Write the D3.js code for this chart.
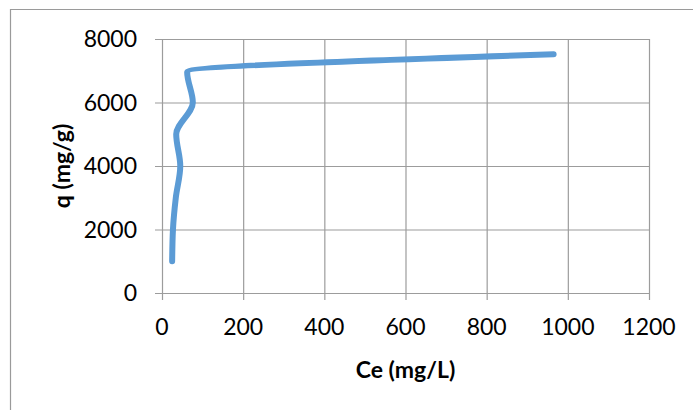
<!DOCTYPE html>
<html>
<head>
<meta charset="utf-8">
<script src="https://cdn.jsdelivr.net/npm/d3@7"></script>
<style>
  body { margin: 0; background: #fff; }
  text { font-family: Lato, "Open Sans", sans-serif; fill: #000; }
</style>
</head>
<body>
<svg id="chart" width="693" height="410"></svg>
<script>
// data
const ceValues = [25, 27, 34, 45, 35, 76, 62, 965];
const qValues = [1000, 2000, 3000, 4000, 5000, 6000, 6950, 7520];
const xTicks = [0, 200, 400, 600, 800, 1000, 1200];
const yTicks = [0, 2000, 4000, 6000, 8000];

const width = 693;
const height = 410;
const margin = { top: 39, left: 162, right: 44, bottom: 117 };

const points = ceValues.map((c, i) => ({ ce: c, q: qValues[i] }));

const svg = d3.select("#chart");

// chart area border (runs off the right and bottom edges)
svg.append("path")
  .attr("d", "M10.5," + height + "V9.5H" + width)
  .attr("fill", "none")
  .attr("stroke", "#9a9a9a")
  .attr("stroke-width", 1.2);

var xScale = d3.scaleLinear()
  .domain([0, 1200])
  .range([margin.left, width - margin.right]);

var yScale = d3.scaleLinear()
  .domain([0, 8000])
  .range([height - margin.bottom, margin.top]);

const plotH = height - margin.bottom - margin.top;
const plotW = width - margin.right - margin.left;

// vertical gridlines + bottom ticks
const xGrid = svg.append("g")
  .attr("transform", "translate(0," + (height - margin.bottom + 7) + ")")
  .call(d3.axisBottom(xScale).tickValues(xTicks).tickSize(-(plotH + 7)).tickFormat(""));

// horizontal gridlines + left ticks
const yGrid = svg.append("g")
  .attr("transform", "translate(" + (margin.left - 7) + ",0)")
  .call(d3.axisLeft(yScale).tickValues(yTicks).tickSize(-(plotW + 7)).tickFormat(""));

[xGrid, yGrid].forEach(g => {
  g.select(".domain").remove();
  g.selectAll(".tick line").attr("stroke", "#9c9c9c").attr("stroke-width", 1.2);
});

// tick labels
svg.append("g")
  .selectAll("text")
  .data(xTicks)
  .join("text")
    .attr("x", d => xScale(d))
    .attr("y", height - margin.bottom + 42)
    .attr("text-anchor", "middle")
    .attr("font-size", 23)
    .text(d => d);

svg.append("g")
  .selectAll("text")
  .data(yTicks)
  .join("text")
    .attr("x", margin.left - 25)
    .attr("y", d => yScale(d))
    .attr("dy", "0.36em")
    .attr("text-anchor", "end")
    .attr("font-size", 23)
    .text(d => d);

// axis titles
svg.append("text")
  .attr("x", margin.left + plotW / 2)
  .attr("y", 378)
  .attr("text-anchor", "middle")
  .attr("font-size", 23)
  .attr("font-weight", "bold")
  .text("Ce (mg/L)");

svg.append("text")
  .attr("transform", "translate(70," + (margin.top + plotH / 2) + ") rotate(-90)")
  .attr("text-anchor", "middle")
  .attr("font-size", 23)
  .attr("font-weight", "bold")
  .text("q (mg/g)");

// smoothed line; q rises at every point, so smooth along q
const line = d3.line()
  .x(d => xScale(d.ce))
  .y(d => yScale(d.q))
  .curve(d3.curveMonotoneY);

svg.append("path")
  .datum(points)
  .attr("d", line)
  .attr("fill", "none")
  .attr("stroke", "#5b9bd5")
  .attr("stroke-width", 6)
  .attr("stroke-linecap", "round")
  .attr("stroke-linejoin", "round");
</script>
</body>
</html>
